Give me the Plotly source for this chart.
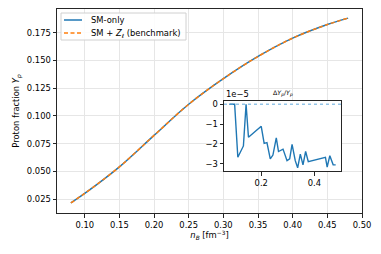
import plotly.graph_objects as go

# ---- data ----
n_B = [0.08, 0.10, 0.15, 0.20, 0.25, 0.30, 0.35, 0.40, 0.45, 0.48]
Yp_sm = [0.0218, 0.0303, 0.0542, 0.0825, 0.1105, 0.1335, 0.1535, 0.1700, 0.1822, 0.1880]
Yp_bench = [0.0218, 0.0303, 0.0542, 0.0825, 0.1105, 0.1335, 0.1535, 0.1700, 0.1822, 0.1880]

n_inset = [0.08, 0.09, 0.10, 0.112, 0.133, 0.143, 0.152, 0.20, 0.211, 0.2215, 0.234,
           0.244, 0.2566, 0.265, 0.282, 0.297, 0.307, 0.316, 0.328, 0.337, 0.347,
           0.357, 0.367, 0.377, 0.4415, 0.448, 0.458, 0.4705, 0.48]
dYp_rel_e5 = [0, 0, 0, -2.67, -2.10, 0, -1.66, -1.11, -1.97, -1.93, -2.75,
              -2.56, -1.69, -2.38, -2.26, -2.84, -2.75, -2.02, -2.84, -3.20, -2.51,
              -3.05, -2.38, -2.89, -2.67, -3.16, -2.59, -3.05, -3.05]

series_names = ["SM-only", "SM + <i>Z</i><sub><i>ℓ</i></sub> (benchmark)"]
main_xticks = [0.10, 0.15, 0.20, 0.25, 0.30, 0.35, 0.40, 0.45, 0.50]
main_yticks = [0.025, 0.050, 0.075, 0.100, 0.125, 0.150, 0.175]
inset_xticks = [0.2, 0.4]
inset_yticks = [0, -1, -2, -3]

BLUE = "#1f77b4"
ORANGE = "#ff7f0e"
FONT = "DejaVu Sans"
AX = "#262626"
GRID = "#e6e6e6"
DASH = "4px,2.5px"

W, H = 381, 254
ML, MR, MT, MB = 57, 19, 9, 41
PW, PH = W - ML - MR, H - MT - MB


def px(xp):
    return (xp - ML) / PW


def py(yp):
    return (H - MB - yp) / PH


fig = go.Figure()
fig.add_trace(go.Scatter(x=n_B, y=Yp_sm, mode="lines", name=series_names[0], showlegend=False,
                         line=dict(color=BLUE, width=1.5, shape="spline")))
fig.add_trace(go.Scatter(x=n_B, y=Yp_bench, mode="lines", name=series_names[1], showlegend=False,
                         line=dict(color=ORANGE, width=1.5, dash=DASH, shape="spline")))
fig.add_trace(go.Scatter(x=n_inset, y=dYp_rel_e5, mode="lines", showlegend=False,
                         line=dict(color=BLUE, width=1.4), xaxis="x2", yaxis="y2"))

ix0, ix1 = px(224), px(341)
iy0, iy1 = py(171), py(101)
xr = [0.06, 0.50]
yr = [0.0127, 0.1962]

common = dict(zeroline=False, showline=True, linecolor=AX, linewidth=1, mirror=True,
              ticks="outside", ticklen=3.5, tickcolor=AX, automargin=False)

shapes = [
    # opaque inset background (covers the main grid)
    dict(type="rect", xref="x", yref="y",
         x0=xr[0] + ix0 * (xr[1] - xr[0]), x1=xr[0] + ix1 * (xr[1] - xr[0]),
         y0=yr[0] + iy0 * (yr[1] - yr[0]), y1=yr[0] + iy1 * (yr[1] - yr[0]),
         fillcolor="white", line=dict(width=0), layer="between"),
    # zero reference line in the inset
    dict(type="line", xref="x2 domain", yref="y2", x0=0, x1=1, y0=0, y1=0,
         line=dict(color="#5fa8dc", width=1, dash="dot")),
    # legend frame
    dict(type="rect", xref="paper", yref="paper", x0=px(61), x1=px(186), y0=py(40), y1=py(13),
         fillcolor="rgba(255,255,255,0.85)", line=dict(color="#d0d0d0", width=1), layer="above"),
    dict(type="line", xref="paper", yref="paper", x0=px(64), x1=px(82), y0=py(20), y1=py(20),
         line=dict(color=BLUE, width=1.5), layer="above"),
    dict(type="line", xref="paper", yref="paper", x0=px(64), x1=px(82), y0=py(33), y1=py(33),
         line=dict(color=ORANGE, width=1.5, dash=DASH), layer="above"),
]

annotations = [
    dict(text=series_names[0], xref="paper", yref="paper", x=px(89), y=py(20),
         xanchor="left", yanchor="middle", showarrow=False, font=dict(size=8.4)),
    dict(text=series_names[1], xref="paper", yref="paper", x=px(89), y=py(33),
         xanchor="left", yanchor="middle", showarrow=False, font=dict(size=8.4)),
    dict(text="1e−5", xref="paper", yref="paper", x=ix0, y=iy1, xanchor="left",
         yanchor="bottom", showarrow=False, font=dict(size=8.4), yshift=0),
    dict(text="Δ<i>Y</i><sub><i>p</i></sub>/<i>Y</i><sub><i>p</i></sub>", xref="paper",
         yref="paper", x=(ix0 + ix1) / 2, y=iy1, xanchor="center", yanchor="bottom",
         showarrow=False, font=dict(size=6.3), yshift=2),
]

fig.update_layout(
    width=W, height=H,
    margin=dict(l=ML, r=MR, t=MT, b=MB, autoexpand=False),
    paper_bgcolor="white", plot_bgcolor="white",
    font=dict(family=FONT, size=8.4, color="#000"),
    showlegend=False,
    xaxis=dict(domain=[0, 1], range=xr, tickvals=main_xticks, tickformat=".2f",
               showgrid=True, gridcolor=GRID, gridwidth=0.8,
               title=dict(text="<i>n</i><sub><i>B</i></sub> [fm<sup>−3</sup>]", standoff=0,
                          font=dict(size=8.4)), **common),
    yaxis=dict(domain=[0, 1], range=yr, tickvals=main_yticks, tickformat=".3f",
               showgrid=True, gridcolor=GRID, gridwidth=0.8,
               title=dict(text="Proton fraction <i>Y</i><sub><i>p</i></sub>", standoff=5,
                          font=dict(size=8.4)), **common),
    xaxis2=dict(domain=[ix0, ix1], anchor="y2", range=xr, tickvals=inset_xticks,
                tickformat=".1f", showgrid=False, tickfont=dict(size=8.4), **common),
    yaxis2=dict(domain=[iy0, iy1], anchor="x2", range=[-3.36, 0.16], tickvals=inset_yticks,
                showgrid=False, tickfont=dict(size=8.4), **common),
    shapes=shapes,
    annotations=annotations,
)

fig.write_html("out.html", config={"displayModeBar": False},
               post_script="document.body.style.margin='0';")
